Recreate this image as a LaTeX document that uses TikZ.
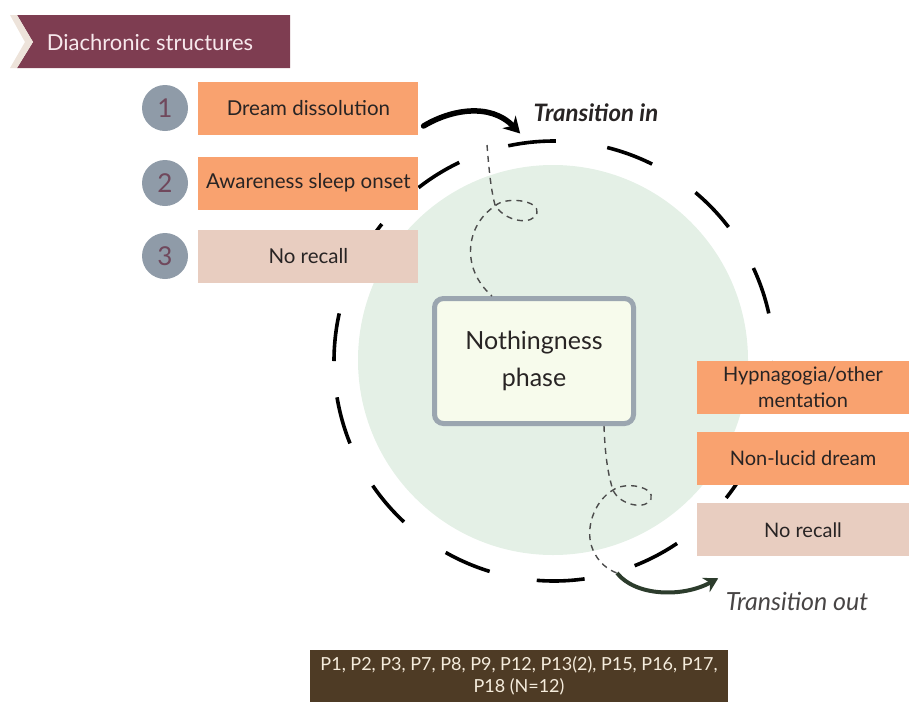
\documentclass[tikz,border=0pt]{standalone}
\usepackage{fontspec}
\setsansfont{Lato}
\usepackage{tikz}
\usetikzlibrary{arrows.meta,positioning}
\definecolor{bannerCol}{RGB}{126, 61, 81}
\definecolor{bannerTipCol}{RGB}{237, 227, 218}
\definecolor{bannerTextCol}{RGB}{247, 232, 236}
\definecolor{dotCol}{RGB}{143, 155, 168}
\definecolor{numCol}{RGB}{112, 72, 92}
\definecolor{orangeCol}{RGB}{249, 162, 111}
\definecolor{paleCol}{RGB}{232, 205, 192}
\definecolor{greenCol}{RGB}{228, 240, 230}
\definecolor{frameCol}{RGB}{155, 166, 176}
\definecolor{frameFill}{RGB}{247, 251, 236}
\definecolor{outCol}{RGB}{44, 60, 44}
\definecolor{brownCol}{RGB}{78, 59, 37}
\definecolor{creamCol}{RGB}{245, 236, 220}
\definecolor{inkCol}{RGB}{40, 36, 36}

\begin{document}
\begin{tikzpicture}[
    font=\sffamily,
    x=1pt, y=-1pt,
    numDot/.style={circle, fill=dotCol, minimum size=46pt, inner sep=0pt,
        text=numCol, font=\sffamily\fontsize{26}{26}\selectfont},
    stepBox/.style={rectangle, minimum width=220pt, minimum height=53pt,
        inner sep=0pt, align=center, text=inkCol,
        font=\sffamily\fontsize{20.5}{23}\selectfont},
    sideBox/.style={stepBox, minimum width=212pt, font=\sffamily\fontsize{20}{26}\selectfont},
    wiggle/.style={draw=black!70, line width=1.4pt, dash pattern=on 6pt off 5pt},
    ringDash/.style={draw=black, line width=3.6pt}
]
    \useasboundingbox (0,0) rectangle (909,702);

    % ---------------- banner ----------------
    \fill[bannerCol] (17,15) -- (290,15) -- (290,68) -- (17,68) -- (33,42) -- cycle;
    \fill[bannerTipCol] (10,15) -- (17,15) -- (33,42) -- (17,68) -- (10,68) -- (25,42) -- cycle;
    \node[text=bannerTextCol, font=\sffamily\fontsize{22}{24}\selectfont] (banner) at (150,42)
        {Diachronic structures};

    % ---------------- phase ring ----------------
    \fill[greenCol] (553,360) circle (195);
    \foreach \a in {-102,-76,-50,-25,0,26,56,82,107,133,158,180,206,232} {
        \draw[ringDash] (554,361) ++(\a:220) arc[start angle=\a, delta angle=12.5, radius=220];
    }

    % ---------------- wiggly dashed paths ----------------
    \node[draw=frameCol, line width=5pt, fill=frameFill, rounded corners=9pt,
        minimum width=199pt, minimum height=125pt, align=center, text=inkCol,
        font=\sffamily\fontsize{25}{37}\selectfont] (nothing) at (534,361)
        {Nothingness\\phase};

    \coordinate (inStart) at (487,145);
    \draw[wiggle] (inStart) .. controls (489,170) and (491,190) .. (495,205)
        .. controls (505,222) and (533,226) .. (537,213)
        .. controls (540,200) and (505,196) .. (495,206)
        .. controls (466,225) and (460,268) .. ([xshift=60pt]nothing.north west);

    \coordinate (outStart) at (617,573);
    \draw[wiggle] ([xshift=-32pt]nothing.south east) .. controls (605,455) and (608,475) .. (613,490)
        .. controls (620,506) and (647,510) .. (651,499)
        .. controls (655,487) and (626,481) .. (613,490)
        .. controls (594,501) and (584,530) .. (593,550)
        .. controls (598,562) and (608,570) .. (outStart);

    % ---------------- left steps ----------------
    \node[numDot] (num1) at (165,108) {1};
    \node[numDot] (num2) at (165,183) {2};
    \node[numDot] (num3) at (165,256) {3};
    \node[stepBox, fill=orangeCol, right=10pt of num1] (dream) {Dream dissolution};
    \node[stepBox, fill=orangeCol, right=10pt of num2] (aware) {Awareness sleep onset};
    \node[stepBox, fill=paleCol, right=10pt of num3] (recallIn) {No recall};

    % ---------------- right outcomes ----------------
    \node[sideBox, fill=orangeCol] (hypna) at (803,387) {Hypnagogia/other\\mentation};
    \node[sideBox, fill=orangeCol, below=18pt of hypna] (nonlucid) {Non-lucid dream};
    \node[sideBox, fill=paleCol, below=18pt of nonlucid] (recallOut) {No recall};

    % ---------------- transitions ----------------
    \node[text=inkCol, font=\sffamily\bfseries\itshape\fontsize{24}{26}\selectfont] (tin) at (596,113)
        {Transition in};
    \node[text=inkCol!85, font=\sffamily\itshape\fontsize{25}{26}\selectfont] (tout) at (797,601)
        {Transition out};

    \draw[-{Stealth[length=16pt, width=18pt]}, line width=5.5pt, line cap=round]
        ([xshift=5pt, yshift=-18pt]dream.east) .. controls (450,110) and (490,102)
        .. ([xshift=-10pt, yshift=-8pt]tin.south west);
    \draw[-{Stealth[length=14pt, width=16pt]}, draw=outCol, line width=4pt]
        (outStart) .. controls (635,596) and (682,598) .. ([xshift=-4pt, yshift=10pt]tout.north west);

    % ---------------- participants ----------------
    \node[fill=brownCol, text=creamCol, minimum width=418pt, minimum height=52pt, inner sep=0pt,
        align=center, font=\sffamily\fontsize{18}{22}\selectfont] (parts) at (519,676)
        {P1, P2, P3, P7, P8, P9, P12, P13(2), P15, P16, P17,\\P18 (N=12)};

\end{tikzpicture}
\end{document}
